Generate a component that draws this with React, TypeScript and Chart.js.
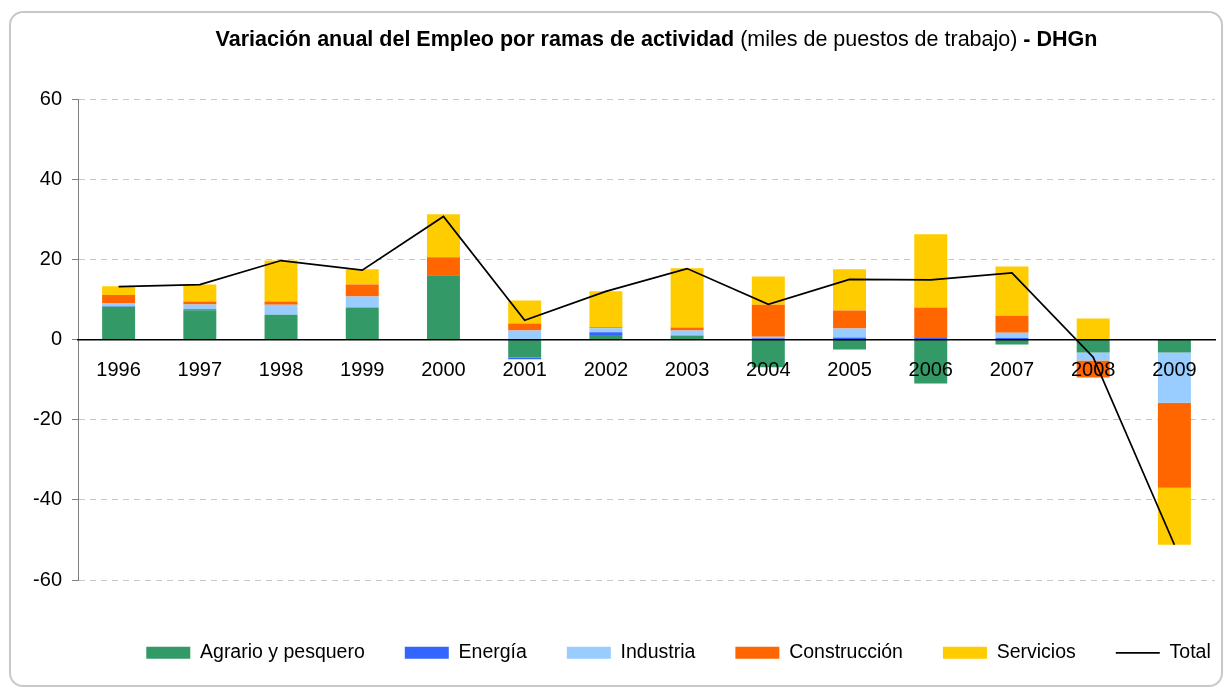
import React, { useEffect, useRef } from 'react';
import { Chart, registerables } from 'chart.js';

Chart.register(...registerables);

const years = ['1996', '1997', '1998', '1999', '2000', '2001', '2002', '2003', '2004', '2005', '2006', '2007', '2008', '2009'];
const agrario = [8.2, 7.3, 6.2, 8.0, 16.0, -4.5, 1.1, 1.0, -6.9, -2.5, -11.0, -1.25, -3.25, -3.25];
const energia = [0.1, 0.25, 0, 0, 0, -0.4, 0.7, 0, 0.3, 0.5, 0.4, 0.4, 0, 0];
const industria = [0.8, 1.2, 2.5, 2.75, 0, 2.25, 1.0, 1.25, 0.4, 2.25, 0, 1.3, -2.0, -12.5];
const construccion = [2.0, 0.75, 0.75, 3.0, 4.5, 1.75, 0.25, 0.75, 8.0, 4.5, 7.6, 4.25, -4.2, -21.25];
const servicios = [2.2, 4.25, 10.25, 3.75, 10.75, 5.75, 9.0, 14.75, 7.0, 10.25, 18.25, 12.25, 5.25, -14.2];
const total = [13.2, 13.7, 19.7, 17.3, 30.7, 4.8, 12.0, 17.7, 8.8, 15.0, 14.9, 16.6, -4.4, -51.2];

const seriesNames = ['Agrario y pesquero', 'Energía', 'Industria', 'Construcción', 'Servicios', 'Total'];
const seriesColors = ['#339966', '#3366FF', '#99CCFF', '#FF6600', '#FFCC00', '#000000'];

const yMin = -60;
const yMax = 60;
const yStep = 20;

const titleBold = 'Variación anual del Empleo por ramas de actividad';
const titleNormal = ' (miles de puestos de trabajo) ';
const titleTail = '- DHGn';

const FONT = "'Liberation Sans', Arial, sans-serif";

const legendPlace = {
  id: 'legendPlace',
  afterLayout(chart: any) {
    const lg = chart.legend;
    if (!lg) return;
    const h = lg.bottom - lg.top;
    const dx = 71;
    lg.left = lg.left + dx;
    lg.right = lg.right + dx;
    lg.top = 603;
    lg.bottom = lg.top + h;
  },
};

export default function App() {
  const ref = useRef<HTMLCanvasElement | null>(null);

  useEffect(() => {
    if (!ref.current) return;
    Chart.defaults.font.family = FONT;
    const barSeries = [agrario, energia, industria, construccion, servicios];
    const datasets: any[] = barSeries.map((d, i) => ({
      type: 'bar',
      label: seriesNames[i],
      data: d,
      backgroundColor: seriesColors[i],
      borderWidth: 0,
      stack: 'ramas',
      pointStyle: 'rect',
      categoryPercentage: 0.406,
      barPercentage: 1,
      order: 0,
    }));
    datasets.push({
      type: 'line',
      label: seriesNames[5],
      data: total,
      borderColor: seriesColors[5],
      backgroundColor: seriesColors[5],
      borderWidth: 1.75,
      pointRadius: 0,
      pointBorderWidth: 1.75,
      pointStyle: 'line',
      tension: 0,
      stack: 'total',
      order: -1,
    });

    const chart = new Chart(ref.current, {
      type: 'bar',
      data: { labels: years, datasets },
      options: {
        animation: false,
        responsive: false,
        layout: { padding: { left: 0, right: 10, top: 99, bottom: 39.5 } },
        plugins: {
          title: { display: false },
          tooltip: { enabled: false },
          legend: {
            display: true,
            position: 'bottom',
            labels: {
              usePointStyle: true,
              pointStyleWidth: 44,
              boxWidth: 44,
              boxHeight: 12,
              padding: 40,
              color: '#000',
              font: { size: 19.5, family: FONT },
              sort: (a: any, b: any) => a.datasetIndex - b.datasetIndex,
            },
          },
        },
        scales: {
          x: {
            stacked: true,
            position: { y: 0 } as any,
            grid: { display: false, drawTicks: false },
            border: { display: true, color: '#000', width: 1.5, z: 1 },
            ticks: { color: '#000', font: { size: 20, family: FONT }, padding: 18.5, maxRotation: 0, autoSkip: false, z: 1 },
          },
          y: {
            stacked: true,
            min: yMin,
            max: yMax,
            ticks: { stepSize: yStep, color: '#000', font: { size: 20, family: FONT }, padding: 10 },
            grid: { color: '#c8c8c8', lineWidth: 1, tickColor: '#808080', tickLength: 6, drawTicks: true },
            border: { display: true, color: '#808080', width: 1, dash: [6, 5] },
            afterFit: (s: any) => {
              s.width = 78;
            },
          },
        },
      },
      plugins: [legendPlace],
    } as any);
    return () => chart.destroy();
  }, []);

  return (
    <div style={{ position: 'absolute', left: 0, top: 0, width: 1225, height: 689, background: '#fff', overflow: 'hidden' }}>
      <div
        style={{
          position: 'absolute',
          left: 9,
          top: 11,
          width: 1210,
          height: 672,
          border: '2px solid #c8c8c8',
          borderRadius: 14,
          boxSizing: 'content-box',
        }}
      />
      <canvas ref={ref} width={1225} height={689} style={{ position: 'absolute', left: 0, top: 0, width: 1225, height: 689 }} />
      <div
        style={{
          position: 'absolute',
          left: 656.5,
          top: 26,
          transform: 'translateX(-50%)',
          whiteSpace: 'nowrap',
          fontFamily: FONT,
          fontSize: 21.5,
          lineHeight: '26px',
          color: '#000',
        }}
      >
        <b>{titleBold}</b>
        <span>{titleNormal}</span>
        <b>{titleTail}</b>
      </div>
    </div>
  );
}
